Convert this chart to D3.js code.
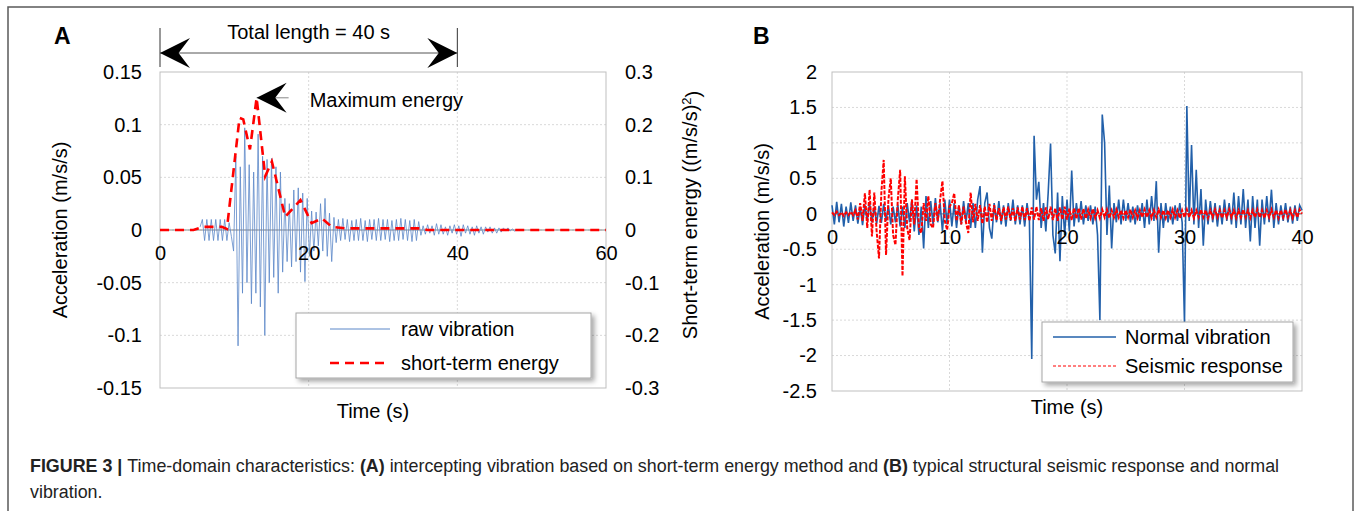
<!DOCTYPE html>
<html>
<head>
<meta charset="utf-8">
<script src="https://d3js.org/d3.v7.min.js"></script>
<style>
  body { margin: 0; background: #fff; }
  svg { display: block; font-family: "Liberation Sans", Arial, sans-serif; }
</style>
</head>
<body>
<script>
// ---------- Panel A data ----------
// raw vibration, sampled from rawStart every rawStep seconds (m/s/s)
var rawStart = 5.4, rawStep = 0.3;
var rawVibration = [
  0.003, 0.01, -0.01, 0.01, -0.01, 0.01, -0.01, 0.01, -0.01, 0.01, -0.01, 0.01, -0.01, 0.007, -0.006, -0.02,
  0.07, -0.11, 0.06, -0.06, 0.097, -0.05, 0.062, -0.07, 0.055, -0.06, 0.091, -0.073, 0.07, -0.1,
  0.067, -0.05, 0.068, -0.045, 0.06, -0.06, 0.055, -0.04, 0.03, -0.03, 0.025, -0.035, 0.038, -0.03, 0.04, -0.04, 0.035, -0.049, 0.03, -0.025,
  0.018, -0.02, 0.017, -0.015, 0.025, -0.02, 0.03, -0.025, 0.016, -0.03, 0.012, -0.012,
  0.01, -0.01, 0.011, -0.009, 0.01, -0.011, 0.009, -0.01, 0.01, -0.01, 0.011, -0.01, 0.009, -0.011, 0.01, -0.009, 0.01, -0.01, 0.011,
  -0.01, 0.01, -0.009, 0.01, -0.011, 0.009, -0.01, 0.01, -0.01, 0.011, -0.009, 0.01, -0.01, 0.009, -0.011, 0.01, -0.01, 0.008,
  -0.005, 0.004, -0.004, 0.005, -0.003, 0.004, -0.005, 0.006, -0.004, 0.005, -0.004, 0.003, -0.005, 0.004, -0.003, 0.005, -0.004, 0.004,
  -0.006, 0.005, -0.003, 0.004, -0.004, 0.003, -0.005, 0.004, -0.003, 0.003, -0.004, 0.003, -0.002, 0.003, -0.003, 0.002, -0.003, 0.002,
  -0.002, 0.002, -0.001, 0.002, -0.001, 0.001, -0.001, 0
];
// short-term energy ((m/s/s)^2)
var energyTime  = [0, 4.5, 5.8, 8.3, 9.0, 10.7, 11.2, 12.1, 13.0, 14.15, 15.05, 16.85, 18.9, 20.4, 21.8, 23.1, 25, 35, 36, 60];
var energyValue = [0, 0, 0.006, 0.006, 0.002, 0.213, 0.21, 0.153, 0.251, 0.102, 0.13, 0.025, 0.057, 0.013, 0.022, 0.006, 0.003, 0.003, 0, 0];

var accTicksA = [0.15, 0.1, 0.05, 0, -0.05, -0.1, -0.15];
var energyTicks = [0.3, 0.2, 0.1, 0, -0.1, -0.2, -0.3];
var timeTicksA = [0, 20, 40, 60];

// ---------- Panel B data ----------
// both series sampled every stepB seconds from 0 to 40 s (m/s/s)
var stepB = 0.2;
var normalVibration = [
  0.12, -0.15, 0.17, -0.12, 0.14, -0.18, 0.1, -0.13, 0.16, -0.1,
  0.12, -0.14, 0.1, -0.16, 0.13, -0.1, 0.15, -0.12, 0.1, -0.14,
  0.11, -0.13, 0.14, -0.1, 0.12, -0.15, 0.1, -0.12, 0.13, -0.18,
  0.1, -0.2, 0.15, -0.12, 0.2, -0.25, 0.12, -0.3, 0.1, -0.49,
  0.25, -0.2, 0.18, -0.15, 0.22, -0.12, 0.15, -0.25, 0.2, -0.15,
  0.2, -0.18, 0.15, -0.2, 0.12, -0.15, 0.18, -0.12, 0.15, -0.2,
  0.15, -0.2, 0.2, 0.39, -0.55, 0.15, 0.3, -0.2, -0.35, 0.15,
  -0.12, 0.18, -0.15, 0.12, -0.18, 0.15, -0.1, 0.2, -0.15, 0.12,
  -0.15, 0.12, -0.18, 0.15, -0.1, -2.05, 1.1, 0.2, 0.45, -0.2,
  0.15, -0.25, 0.3, 0.99, -0.3, -0.56, 0.3, -0.67, 0.25, -0.3,
  0.2, -0.25, 0.61, -0.18, 0.15, -0.12, 0.18, -0.15, 0.12, -0.1,
  0.12, -0.15, 0.1, -0.3, -1.5, 1.4, 1.0, -0.3, 0.4, -0.49,
  0.15, -0.12, 0.2, -0.15, 0.2, -0.1, 0.15, -0.12, 0.1, -0.15,
  0.12, -0.1, 0.15, -0.2, 0.2, -0.15, 0.25, -0.1, 0.46, -0.55,
  0.15, -0.2, 0.15, -0.12, 0.1, -0.15, 0.12, -0.1, 0.15, -0.12,
  -1.55, 1.52, -0.1, 0.97, -0.15, 0.62, -0.2, 0.35, -0.45, 0.2,
  -0.15, 0.18, -0.12, 0.15, -0.18, 0.12, -0.15, 0.2, -0.1, 0.15,
  -0.15, 0.3, -0.2, 0.25, -0.15, 0.35, -0.2, 0.2, -0.39, 0.25,
  -0.2, 0.2, -0.45, 0.2, -0.15, 0.25, -0.12, 0.34, -0.2, 0.15,
  -0.15, 0.12, -0.1, 0.15, -0.12, 0.1, -0.14, 0.12, -0.1, 0.12,
  0.05
];
var seismicResponse = [
  0.02, -0.02, 0.03, -0.02, 0.02, -0.03, 0.02, -0.02, 0.03, -0.02,
  0.05, -0.08, 0.15, -0.1, 0.29, -0.2, 0.34, -0.32, 0.3, -0.25,
  -0.63, 0.3, 0.76, -0.58, 0.2, 0.5, -0.3, -0.44, 0.2, 0.62,
  -0.88, 0.53, -0.2, -0.37, 0.2, -0.15, 0.49, -0.2, -0.27, 0.15,
  -0.1, 0.25, -0.15, -0.2, 0.15, -0.1, 0.2, 0.46, -0.1, -0.23,
  0.1, 0.15, 0.29, -0.1, 0.12, -0.15, 0.1, -0.12, -0.27, 0.3,
  -0.12, 0.14, -0.1, 0.12, -0.14, 0.1, -0.12, 0.14, -0.1, 0.12,
  -0.09, 0.08, -0.1, 0.09, -0.08, 0.1, -0.09, 0.08, -0.1, 0.09,
  -0.08, 0.1, -0.09, 0.08, -0.1, 0.09, -0.08, 0.1, -0.09, 0.08,
  -0.1, 0.09, -0.08, 0.1, -0.09, 0.08, -0.1, 0.09, -0.08, 0.1,
  -0.08, 0.07, -0.09, 0.08, -0.07, 0.08, -0.08, 0.07, -0.07, 0.06,
  -0.06, 0.07, -0.06, 0.05, -0.06, 0.06, -0.05, 0.06, -0.06, 0.05,
  -0.05, 0.06, -0.05, 0.05, -0.06, 0.05, -0.05, 0.06, -0.05, 0.05,
  -0.06, 0.05, -0.05, 0.06, -0.05, 0.05, -0.06, 0.05, -0.05, 0.06,
  -0.05, 0.05, -0.06, 0.05, -0.05, 0.06, -0.05, 0.05, -0.06, 0.05,
  -0.05, 0.06, -0.05, 0.05, -0.06, 0.05, -0.05, 0.06, -0.05, 0.05,
  -0.06, 0.05, -0.05, 0.06, -0.05, 0.05, -0.06, 0.05, -0.05, 0.06,
  -0.05, 0.05, -0.06, 0.05, -0.05, 0.06, -0.05, 0.05, -0.06, 0.05,
  -0.05, 0.06, -0.05, 0.05, -0.06, 0.05, -0.05, 0.06, -0.05, 0.05,
  -0.06, 0.05, -0.05, 0.06, -0.05, 0.05, -0.06, 0.05, -0.05, 0.06,
  0
];

var accTicksB = [2, 1.5, 1, 0.5, 0, -0.5, -1, -1.5, -2, -2.5];
var timeTicksB = [0, 10, 20, 30, 40];

// ---------- canvas ----------
var FONT = "20px 'Liberation Sans', Arial, sans-serif";
var svg = d3.select("body").append("svg")
    .attr("width", 1355)
    .attr("height", 511);

var shadow = svg.append("defs").append("filter")
    .attr("id", "shadow")
    .attr("x", "-10%").attr("y", "-20%")
    .attr("width", "130%").attr("height", "150%");
shadow.append("feDropShadow")
    .attr("dx", 3).attr("dy", 3)
    .attr("stdDeviation", 2.5)
    .attr("flood-color", "#000")
    .attr("flood-opacity", 0.35);

// outer frame of the figure
svg.append("rect")
    .attr("x", 8).attr("y", 7)
    .attr("width", 1345).attr("height", 530)
    .attr("fill", "none")
    .attr("stroke", "#5a5a5a")
    .attr("stroke-width", 1.5);

// gridlines, border and zero line of one plot area
function plotFrame(x, y, xTicks, yTicks) {
  var g = svg.append("g");
  var x0 = x.range()[0], x1 = x.range()[1];
  var y0 = y.range()[1], y1 = y.range()[0];
  g.selectAll(".hgrid")
      .data(yTicks.slice(1, -1))
    .enter().append("line")
      .attr("x1", x0).attr("x2", x1)
      .attr("y1", function(d) { return y(d); })
      .attr("y2", function(d) { return y(d); })
      .attr("stroke", "#d9d9d9")
      .attr("stroke-dasharray", "2,2");
  g.selectAll(".vgrid")
      .data(xTicks.slice(1, -1))
    .enter().append("line")
      .attr("y1", y0).attr("y2", y1)
      .attr("x1", function(d) { return x(d); })
      .attr("x2", function(d) { return x(d); })
      .attr("stroke", "#d9d9d9")
      .attr("stroke-dasharray", "2,2");
  g.append("rect")
      .attr("x", x0).attr("y", y0)
      .attr("width", x1 - x0).attr("height", y1 - y0)
      .attr("fill", "none")
      .attr("stroke", "#bfbfbf");
  g.append("line")
      .attr("x1", x0).attr("x2", x1)
      .attr("y1", y(0)).attr("y2", y(0))
      .attr("stroke", "#8c8c8c")
      .attr("stroke-width", 1.2);
}

function styleAxis(a) {
  a.select(".domain").remove();
  a.selectAll("text").style("font", FONT).attr("fill", "#000");
}

function legend(x, y, w, h, items) {
  var g = svg.append("g");
  g.append("rect")
      .attr("x", x).attr("y", y)
      .attr("width", w).attr("height", h)
      .attr("fill", "#fff")
      .attr("stroke", "#a6a6a6")
      .attr("filter", "url(#shadow)");
  items.forEach(function(it) {
    g.append("line")
        .attr("x1", it.x1).attr("x2", it.x2)
        .attr("y1", it.y).attr("y2", it.y)
        .attr("stroke", it.color)
        .attr("stroke-width", it.width)
        .attr("stroke-dasharray", it.dash || null);
    g.append("text")
        .attr("x", it.tx).attr("y", it.y)
        .attr("dy", "0.35em")
        .style("font", FONT)
        .text(it.label);
  });
}

function arrowHead(tipX, tipY, dir, len, half) {
  // dir = 1 : points to the left, dir = -1 : points to the right
  return "M" + tipX + "," + tipY +
    "L" + (tipX + dir * len) + "," + (tipY - half) +
    "L" + (tipX + dir * len * 0.62) + "," + tipY +
    "L" + (tipX + dir * len) + "," + (tipY + half) + "Z";
}

// ---------- Panel A ----------
var xA = d3.scaleLinear().domain([0, 60]).range([160, 606]);
var yA = d3.scaleLinear().domain([-0.15, 0.15]).range([388, 72]);
var yE = d3.scaleLinear().domain([-0.3, 0.3]).range([388, 72]);

plotFrame(xA, yA, timeTicksA, accTicksA);

svg.append("g")
    .attr("transform", "translate(" + xA(0) + ",0)")
    .call(d3.axisLeft(yA).tickValues(accTicksA).tickFormat(String).tickSize(0).tickPadding(18))
    .call(styleAxis);
svg.append("g")
    .attr("transform", "translate(" + xA(60) + ",0)")
    .call(d3.axisRight(yE).tickValues(energyTicks).tickFormat(String).tickSize(0).tickPadding(19))
    .call(styleAxis);

var rawLine = d3.line()
    .x(function(d, i) { return xA(rawStart + i * rawStep); })
    .y(function(d) { return yA(d); });
svg.append("path")
    .datum(rawVibration)
    .attr("fill", "none")
    .attr("stroke", "#5b87c8")
    .attr("stroke-width", 0.8)
    .attr("d", rawLine);

var energyLine = d3.line()
    .x(function(d, i) { return xA(energyTime[i]); })
    .y(function(d) { return yE(d); });
svg.append("path")
    .datum(energyValue)
    .attr("fill", "none")
    .attr("stroke", "#ff0000")
    .attr("stroke-width", 2.6)
    .attr("stroke-dasharray", "9,6")
    .attr("d", energyLine);

// x tick labels sit just under the zero line
svg.append("g")
    .attr("transform", "translate(0," + yA(0) + ")")
    .call(d3.axisBottom(xA).tickValues(timeTicksA).tickFormat(String).tickSize(0).tickPadding(16))
    .call(styleAxis);

svg.append("text")
    .attr("transform", "translate(60," + yA(0) + ") rotate(-90)")
    .attr("text-anchor", "middle")
    .attr("dy", "0.35em")
    .style("font", FONT)
    .text("Acceleration (m/s/s)");
var rt = svg.append("text")
    .attr("transform", "translate(690,215) rotate(-90)")
    .attr("text-anchor", "middle")
    .attr("dy", "0.35em")
    .style("font", FONT);
rt.append("tspan").text("Short-term energy  ((m/s/s)");
rt.append("tspan").attr("dy", "-0.45em").style("font-size", "13px").text("2");
rt.append("tspan").attr("dy", "0.45em").text(")");
svg.append("text")
    .attr("x", 373).attr("y", 411)
    .attr("text-anchor", "middle")
    .attr("dy", "0.35em")
    .style("font", FONT)
    .text("Time (s)");

svg.append("text")
    .attr("x", 54).attr("y", 44)
    .style("font", "bold 23px 'Liberation Sans', Arial, sans-serif")
    .text("A");

// "Total length = 40 s" annotation
var spanY = 53;
[0, 40].forEach(function(t) {
  svg.append("line")
      .attr("x1", xA(t)).attr("x2", xA(t))
      .attr("y1", 28).attr("y2", 67)
      .attr("stroke", "#333").attr("stroke-width", 1);
});
svg.append("line")
    .attr("x1", xA(0)).attr("x2", xA(40))
    .attr("y1", spanY).attr("y2", spanY)
    .attr("stroke", "#555").attr("stroke-width", 1);
svg.append("path").attr("d", arrowHead(xA(0), spanY, 1, 30, 15)).attr("fill", "#000");
svg.append("path").attr("d", arrowHead(xA(40), spanY, -1, 30, 15)).attr("fill", "#000");
svg.append("text")
    .attr("x", (xA(0) + xA(40)) / 2).attr("y", 32)
    .attr("text-anchor", "middle")
    .attr("dy", "0.35em")
    .style("font", FONT)
    .text("Total length = 40 s");

// "Maximum energy" annotation at the peak of the energy curve
var iMax = d3.maxIndex(energyValue);
var px = xA(energyTime[iMax]), py = yE(energyValue[iMax]);
svg.append("line")
    .attr("x1", px).attr("x2", px + 32)
    .attr("y1", py).attr("y2", py)
    .attr("stroke", "#888").attr("stroke-width", 1);
svg.append("path").attr("d", arrowHead(px, py, 1, 30, 15)).attr("fill", "#000");
svg.append("text")
    .attr("x", px + 53).attr("y", py + 2)
    .attr("dy", "0.35em")
    .style("font", FONT)
    .text("Maximum energy");

legend(296, 313, 295, 65, [
  {x1: 330, x2: 390, y: 329, tx: 401, color: "#5b87c8", width: 1, label: "raw vibration"},
  {x1: 330, x2: 390, y: 363, tx: 401, color: "#ff0000", width: 2.6, dash: "9,6", label: "short-term energy"}
]);

// ---------- Panel B ----------
var xB = d3.scaleLinear().domain([0, 40]).range([832, 1302]);
var yB = d3.scaleLinear().domain([-2.5, 2]).range([391, 72]);

plotFrame(xB, yB, timeTicksB, accTicksB);

svg.append("g")
    .attr("transform", "translate(" + xB(0) + ",0)")
    .call(d3.axisLeft(yB).tickValues(accTicksB).tickFormat(String).tickSize(0).tickPadding(15))
    .call(styleAxis);

var lineB = d3.line()
    .x(function(d, i) { return xB(i * stepB); })
    .y(function(d) { return yB(d); });
svg.append("path")
    .datum(normalVibration)
    .attr("fill", "none")
    .attr("stroke", "#2260aa")
    .attr("stroke-width", 1.6)
    .attr("d", lineB);
svg.append("path")
    .datum(seismicResponse)
    .attr("fill", "none")
    .attr("stroke", "#ff0000")
    .attr("stroke-width", 2)
    .attr("stroke-dasharray", "4,1.5")
    .attr("d", lineB);

svg.append("g")
    .attr("transform", "translate(0," + yB(0) + ")")
    .call(d3.axisBottom(xB).tickValues(timeTicksB).tickFormat(String).tickSize(0).tickPadding(16))
    .call(styleAxis);

svg.append("text")
    .attr("transform", "translate(762," + ((yB.range()[0] + yB.range()[1]) / 2) + ") rotate(-90)")
    .attr("text-anchor", "middle")
    .attr("dy", "0.35em")
    .style("font", FONT)
    .text("Acceleration (m/s/s)");
svg.append("text")
    .attr("x", 1067).attr("y", 407)
    .attr("text-anchor", "middle")
    .attr("dy", "0.35em")
    .style("font", FONT)
    .text("Time (s)");
svg.append("text")
    .attr("x", 753).attr("y", 44)
    .style("font", "bold 23px 'Liberation Sans', Arial, sans-serif")
    .text("B");

legend(1042, 322, 251, 60, [
  {x1: 1053, x2: 1116, y: 337, tx: 1125, color: "#2260aa", width: 1.3, label: "Normal vibration"},
  {x1: 1053, x2: 1116, y: 366, tx: 1125, color: "#ff0000", width: 1.2, dash: "3,2", label: "Seismic response"}
]);

// ---------- caption ----------
var capFont = "16px 'Liberation Sans', Arial, sans-serif";
var cap = svg.append("text")
    .attr("x", 30).attr("y", 472)
    .style("font", capFont)
    .attr("fill", "#222");
cap.append("tspan").attr("font-weight", "bold").text("FIGURE 3 | ");
cap.append("tspan").text("Time-domain characteristics: ");
cap.append("tspan").attr("font-weight", "bold").text("(A)");
cap.append("tspan").text(" intercepting vibration based on short-term energy method and ");
cap.append("tspan").attr("font-weight", "bold").text("(B)");
cap.append("tspan").text(" typical structural seismic response and normal");
var cap2 = svg.append("text")
    .attr("x", 30).attr("y", 498)
    .style("font", capFont)
    .attr("fill", "#222")
    .text("vibration.");
// the caption's first line runs from x = 30 to about x = 1280
var capSize = 16 * 1250 / cap.node().getComputedTextLength();
cap.style("font-size", capSize + "px");
cap2.style("font-size", capSize + "px");
</script>
</body>
</html>
